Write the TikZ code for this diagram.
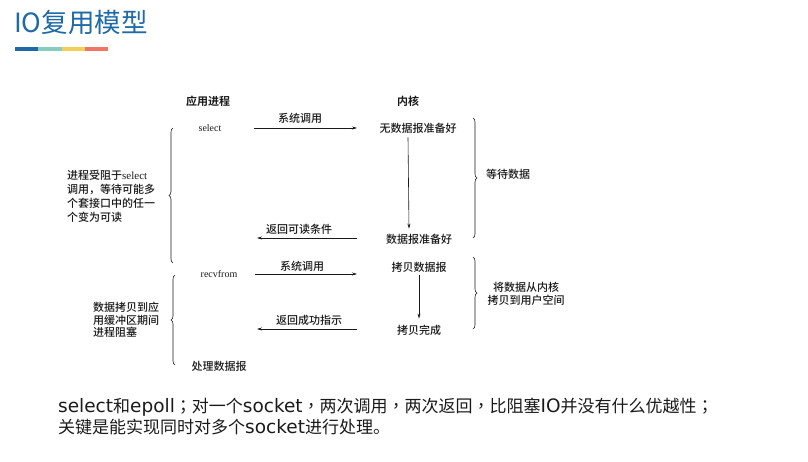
\documentclass[tikz,border=0pt]{standalone}
\usepackage{fontspec}
\setmainfont{Noto Sans CJK SC}[BoldFont={Noto Sans CJK SC Bold}]
\newfontfamily\med{Noto Sans CJK SC Medium}
\newfontfamily\tcp{Noto Sans CJK TC}
\newfontfamily\lat{Liberation Serif}
\newfontfamily\dv{DejaVu Sans}
\newcommand{\lt}[1]{{\dv\fontsize{18.5}{20}\selectfont #1}}
\newcommand{\pu}[1]{{\tcp #1}}
\usetikzlibrary{arrows.meta,decorations.pathreplacing}
\definecolor{titleblue}{HTML}{1E6AA6}
\definecolor{barteal}{HTML}{88CBBF}
\definecolor{baryellow}{HTML}{F5CE5A}
\definecolor{barred}{HTML}{F07563}
\definecolor{ink}{HTML}{1A1A1A}
\begin{document}
\begin{tikzpicture}[x=1pt,y=-1pt,
  lbl/.style={inner sep=1pt,text=ink,font=\fontsize{11}{13}\selectfont\med},
  hd/.style={lbl,font=\fontsize{11}{13}\selectfont\bfseries},
  conn/.style={draw=ink,line width=0.6pt,-{Stealth[length=5pt,width=3pt]}},
  brc/.style={draw=ink,line width=0.6pt,decorate,decoration={brace,amplitude=4pt}},
  note/.style={lbl,align=left,anchor=west,font=\fontsize{11}{14}\selectfont\med},
  body/.style={inner sep=0pt,anchor=west,text=ink,font=\fontsize{17}{20}\selectfont}]
\useasboundingbox (0,0) rectangle (808,461);
% title
\node[inner sep=0pt,anchor=west,text=titleblue,font=\fontsize{26.5}{28}\selectfont] (title) at (14,22) {IO复用模型};
\fill[titleblue] (15,47) rectangle (38,51);
\fill[barteal] (38,47) rectangle (62,51);
\fill[baryellow] (62,47) rectangle (85,51);
\fill[barred] (85,47) rectangle (108,51);
% headers
\node[hd] (app) at (208,101) {应用进程};
\node[hd] (kern) at (408,101) {内核};
% first phase
\node[lbl,font=\fontsize{10}{12}\lat] (sel) at (210,128) {select};
\node[lbl] (nodata) at (418,128) {无数据报准备好};
\node[lbl] (ready) at (419,239) {数据报准备好};
\coordinate (a1s) at (254,128);
\coordinate (a1e) at (357,128);
\draw[conn] (a1s) -- (a1e);
\node[lbl] (l1) at (300,118) {系统调用};
\draw[conn] ([xshift=-10pt,yshift=-3pt]nodata.south) -- ([xshift=-10pt,yshift=4pt]ready.north);
\coordinate (a2s) at (357,238);
\coordinate (a2e) at (257,238);
\draw[conn] (a2s) -- (a2e);
\node[lbl] (l2) at (299,229) {返回可读条件};
% second phase
\node[lbl,font=\fontsize{10}{12}\lat] (recv) at (219,274) {recvfrom};
\node[lbl] (copy) at (419,267) {拷贝数据报};
\node[lbl] (done) at (419,330) {拷贝完成};
\coordinate (a3s) at (255,274);
\coordinate (a3e) at (357,274);
\draw[conn] (a3s) -- (a3e);
\node[lbl] (l3) at (302,266) {系统调用};
\draw[conn] ([yshift=-2pt]copy.south) -- ([yshift=5pt]done.north);
\coordinate (a4s) at (357,329);
\coordinate (a4e) at (257,329);
\draw[conn] (a4s) -- (a4e);
\node[lbl] (l4) at (309,320) {返回成功指示};
\node[lbl] (proc) at (219,366) {处理数据报};
% braces
\coordinate (b1t) at (173,128);
\coordinate (b1b) at (173,263);
\draw[brc] (b1b) -- (b1t);
\coordinate (b2t) at (175,275);
\coordinate (b2b) at (175,365);
\draw[brc] (b2b) -- (b2t);
\coordinate (b3t) at (473,118);
\coordinate (b3b) at (473,238);
\draw[brc] (b3t) -- (b3b);
\coordinate (b4t) at (473,257);
\coordinate (b4b) at (473,329);
\draw[brc] (b4t) -- (b4b);
% brace labels
\node[note] (n1) at (66,196) {进程受阻于{\lat select}\\调用，等待可能多\\个套接口中的任一\\个变为可读};
\node[note,font=\fontsize{11}{12.5}\selectfont\med] (n2) at (92,320) {数据拷贝到应\\用缓冲区期间\\进程阻塞};
\node[lbl] (n3) at (508,174) {等待数据};
\node[lbl,align=center,font=\fontsize{11}{12.5}\selectfont\med] (n4) at (526,294) {将数据从内核\\拷贝到用户空间};
% bottom text
\node[body] (t1) at (58,407) {\lt{select}和\lt{epoll}\pu{；}对一个\lt{socket}\pu{，}两次调用\pu{，}两次返回\pu{，}比阻塞\lt{IO}并没有什么优越性\pu{；}};
\node[body] (t2) at (58,427) {关键是能实现同时对多个\lt{socket}进行处理。};
\end{tikzpicture}
\end{document}
